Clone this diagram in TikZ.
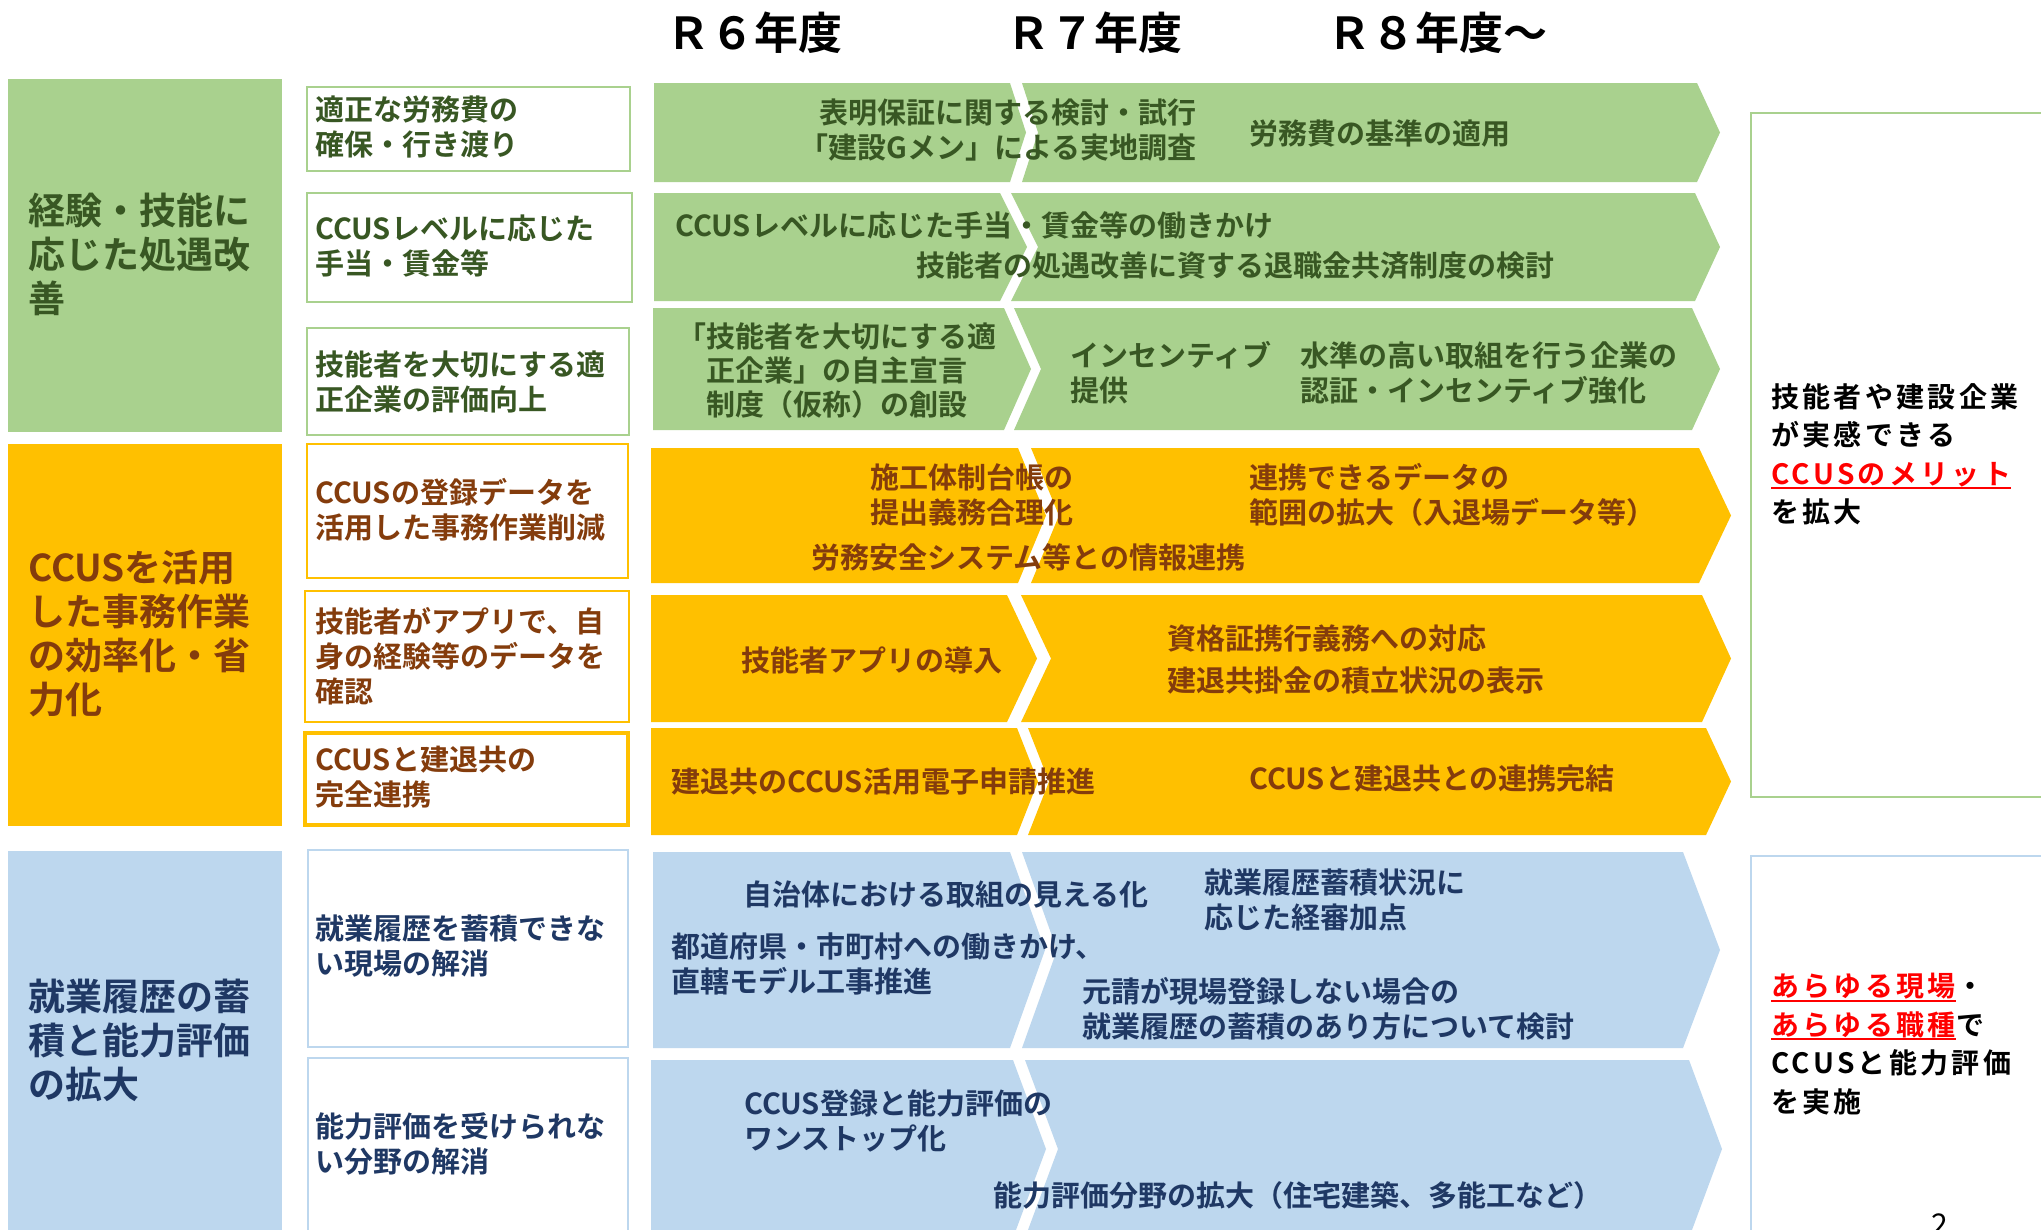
\documentclass[tikz,border=0pt]{standalone}
\usepackage{fontspec}
\setmainfont{Noto Sans CJK JP}[BoldFont={Noto Sans CJK JP Bold}]
\newfontfamily\rfont{Noto Sans CJK JP}[BoldFont={Noto Sans CJK JP Bold},LetterSpace=12]
\definecolor{gfill}{HTML}{A9D18E}
\definecolor{yfill}{HTML}{FFC000}
\definecolor{bfill}{HTML}{BDD7EE}
\definecolor{gtext}{HTML}{385723}
\definecolor{ytext}{HTML}{843C0C}
\definecolor{btext}{HTML}{1F3864}
\definecolor{ulred}{HTML}{FF0000}
\newsavebox\ulbox
\newcommand\redul[1]{\sbox\ulbox{\color{ulred}#1}{\color{ulred}\rlap{\rule[-5pt]{\wd\ulbox}{2pt}}}\usebox\ulbox}
\newcommand\chevrow[9]{%
  \pgfmathsetmacro\cmid{(#2+#3)/2}%
  \pgfmathsetmacro\tipa{#5+#6}%
  \pgfmathsetmacro\notb{#7+#6}%
  \pgfmathsetmacro\tipc{#8+#9}%
  \fill[#1] (#4,#2) -- (#5,#2) -- (\tipa,\cmid) -- (#5,#3) -- (#4,#3) -- cycle;
  \fill[#1] (#7,#2) -- (#8,#2) -- (\tipc,\cmid) -- (#8,#3) -- (#7,#3) -- (\notb,\cmid) -- cycle;
}
\tikzset{
  hd/.style={font=\bfseries\fontsize{44}{50}\selectfont, anchor=west, inner sep=0pt},
  lt/.style={font=\bfseries\fontsize{37}{44}\selectfont, anchor=west, align=left, inner sep=0pt},
  mt/.style={font=\bfseries\fontsize{29}{35}\selectfont, anchor=west, align=left, inner sep=0pt},
  rt/.style={font=\rfont\bfseries\fontsize{28}{38.5}\selectfont, anchor=west, align=left, inner sep=0pt},
  mbox/.style={line width=2.5pt, fill=white},
}
\begin{document}
\begin{tikzpicture}[x=1pt,y=-1pt]
\useasboundingbox (0,0) rectangle (2041,1229);
\clip (0,0) rectangle (2041,1229);
\fill[white] (0,0) rectangle (2041,1229);

% headings
\node[hd] (h6) at (666,33) {Ｒ６年度};
\node[hd] (h7) at (1006,33) {Ｒ７年度};
\node[hd] (h8) at (1327,33) {Ｒ８年度～};

% left category boxes
\fill[gfill] (8,79) rectangle (282,432);
\fill[yfill] (8,444) rectangle (282,826);
\fill[bfill] (8,851) rectangle (282,1245);
\node[lt, text=gtext] (lg) at (28,254) {経験・技能に\\応じた処遇改\\善};
\node[lt, text=ytext] (ly) at (28,634) {CCUSを活用\\した事務作業\\の効率化・省\\力化};
\node[lt, text=btext] (lb) at (28,1040) {就業履歴の蓄\\積と能力評価\\の拡大};

% middle boxes
\draw[mbox, draw=gfill] (307,87) rectangle (630,171);
\draw[mbox, draw=gfill] (307,193) rectangle (632,302);
\draw[mbox, draw=gfill] (307,328) rectangle (629,435);
\draw[mbox, draw=yfill, line width=2pt] (307,444) rectangle (628,578);
\draw[mbox, draw=yfill, line width=2pt] (305,591) rectangle (629,722);
\draw[mbox, draw=yfill, line width=4pt] (305,733) rectangle (628,825);
\draw[mbox, draw=bfill] (308,850) rectangle (628,1047);
\draw[mbox, draw=bfill] (308,1058) rectangle (628,1245);
\node[mt, text=gtext] (m1) at (315,126.5) {適正な労務費の\\確保・行き渡り};
\node[mt, text=gtext] (m2) at (315,246) {CCUSレベルに応じた\\手当・賃金等};
\node[mt, text=gtext] (m3) at (315,381.5) {技能者を大切にする適\\正企業の評価向上};
\node[mt, text=ytext] (m4) at (315,510) {CCUSの登録データを\\活用した事務作業削減};
\node[mt, text=ytext] (m5) at (315,656) {技能者がアプリで、自\\身の経験等のデータを\\確認};
\node[mt, text=ytext] (m6) at (315,777) {CCUSと建退共の\\完全連携};
\node[mt, text=btext] (m7) at (315,946) {就業履歴を蓄積できな\\い現場の解消};
\node[mt, text=btext] (m8) at (315,1144) {能力評価を受けられな\\い分野の解消};

% chevron rows
\chevrow{gfill}{83}{182}{654}{1010}{16}{1022}{1697}{23}
\chevrow{gfill}{193}{301}{654}{1000}{27}{1011}{1695}{25}
\chevrow{gfill}{308}{430}{653}{1004}{27}{1014}{1692}{28}
\chevrow{yfill}{448}{583}{651}{1018}{28}{1031}{1699}{32}
\chevrow{yfill}{595}{722}{651}{1007}{30}{1021}{1702}{29}
\chevrow{yfill}{728}{835}{651}{1017}{21}{1028}{1706}{25}
\chevrow{bfill}{852}{1048}{653}{1010}{35}{1022}{1683}{37}
\chevrow{bfill}{1060}{1238}{651}{1013}{33}{1025}{1689}{33}

% chevron texts, green
\node[mt, text=gtext, anchor=east, align=right] (g1a) at (1197,130.5) {表明保証に関する検討・試行\\「建設Gメン」による実地調査};
\node[mt, text=gtext] (g1b) at (1249,133) {労務費の基準の適用};
\node[mt, text=gtext] (g2a) at (675,225) {CCUSレベルに応じた手当・賃金等の働きかけ};
\node[mt, text=gtext] (g2b) at (916,266) {技能者の処遇改善に資する退職金共済制度の検討};
\node[mt, text=gtext, anchor=center, align=center, font=\bfseries\fontsize{29}{34}\selectfont] (g3a) at (837,371) {「技能者を大切にする適\\正企業」の自主宣言\\制度（仮称）の創設};
\node[mt, text=gtext] (g3b) at (1070,372.5) {インセンティブ\\提供};
\node[mt, text=gtext] (g3c) at (1300,372.5) {水準の高い取組を行う企業の\\認証・インセンティブ強化};

% chevron texts, yellow
\node[mt, text=ytext] (y1a) at (870,494.5) {施工体制台帳の\\提出義務合理化};
\node[mt, text=ytext] (y1b) at (811,557) {労務安全システム等との情報連携};
\node[mt, text=ytext] (y1c) at (1249,494.5) {連携できるデータの\\範囲の拡大（入退場データ等）};
\node[mt, text=ytext] (y2a) at (741,660) {技能者アプリの導入};
\node[mt, text=ytext, font=\bfseries\fontsize{29}{42}\selectfont] (y2b) at (1167,659) {資格証携行義務への対応\\建退共掛金の積立状況の表示};
\node[mt, text=ytext] (y3a) at (671,782) {建退共のCCUS活用電子申請推進};
\node[mt, text=ytext] (y3b) at (1249,778) {CCUSと建退共との連携完結};

% chevron texts, blue
\node[mt, text=btext] (b1a) at (743,895) {自治体における取組の見える化};
\node[mt, text=btext] (b1b) at (671,964) {都道府県・市町村への働きかけ、\\直轄モデル工事推進};
\node[mt, text=btext] (b1c) at (1204,899.5) {就業履歴蓄積状況に\\応じた経審加点};
\node[mt, text=btext] (b1d) at (1082,1008.5) {元請が現場登録しない場合の\\就業履歴の蓄積のあり方について検討};
\node[mt, text=btext] (b2a) at (744,1120.5) {CCUS登録と能力評価の\\ワンストップ化};
\node[mt, text=btext] (b2b) at (993,1195) {能力評価分野の拡大（住宅建築、多能工など）};

% right boxes
\draw[gfill, line width=2pt] (1751,113) rectangle (2060,797);
\draw[bfill, line width=2pt] (1751,856) rectangle (2060,1260);
\node[rt] (r1) at (1771,454.5) {技能者や建設企業\\が実感できる\\\redul{CCUSのメリット}\\を拡大};
\node[rt] (r2) at (1771,1044) {\redul{あらゆる現場}・\\\redul{あらゆる職種}で\\CCUSと能力評価\\を実施};

% page number
\node[font=\fontsize{30}{36}\selectfont, anchor=base, inner sep=0pt] (pg) at (1940,1235) {2};
\end{tikzpicture}
\end{document}
